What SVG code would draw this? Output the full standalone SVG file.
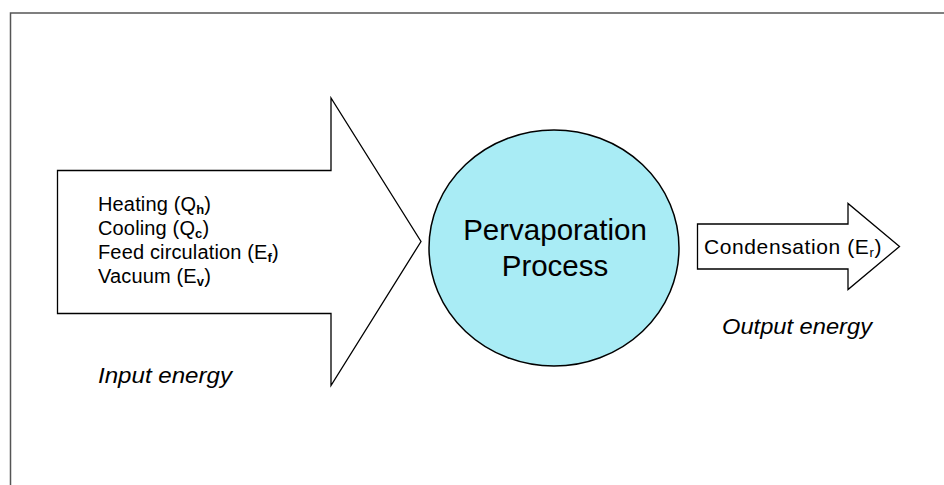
<svg xmlns="http://www.w3.org/2000/svg" width="944" height="485" viewBox="0 0 944 485">
<style>
.shape{fill:#ffffff;stroke:#000000;stroke-width:1.3;stroke-linejoin:miter}
.t{font-family:"Liberation Sans",Arial,sans-serif;fill:#000}
.lst{font-size:20px;letter-spacing:0.15px}
.cond{font-size:21px;letter-spacing:0.6px}
.sub{font-size:13px}
.lab{font-size:22px;font-style:italic}
.big{font-size:29.5px}
</style>
<g id="frame">
<polyline points="10.5,485 10.5,13 944,13" fill="none" stroke="#555" stroke-width="1.5"/>
</g>
<g id="input-arrow">
<polygon class="shape" points="57.5,170.5 331,170.5 331,98 421,241.5 331,385.5 331,313.5 57.5,313.5"/>
<text class="t lst" x="98" y="211">Heating (Q<tspan class="sub" font-weight="bold" dy="3">h</tspan><tspan dy="-3">)</tspan></text>
<text class="t lst" x="98" y="235">Cooling (Q<tspan class="sub" font-weight="bold" dy="3">c</tspan><tspan dy="-3">)</tspan></text>
<text class="t lst" x="98" y="259">Feed circulation (E<tspan class="sub" font-weight="bold" dy="3">f</tspan><tspan dy="-3">)</tspan></text>
<text class="t lst" x="98" y="283">Vacuum (E<tspan class="sub" font-weight="bold" dy="3">v</tspan><tspan dy="-3">)</tspan></text>
</g>
<g id="input-label">
<text class="t lab" x="98" y="383" textLength="134" lengthAdjust="spacingAndGlyphs">Input energy</text>
</g>
<g id="process">
<ellipse cx="554" cy="248" rx="125" ry="118" fill="#a9ecf5" stroke="#000" stroke-width="1.5"/>
<text class="t big" x="555" y="240" text-anchor="middle">Pervaporation</text>
<text class="t big" x="555" y="276" text-anchor="middle">Process</text>
</g>
<g id="output-arrow">
<polygon class="shape" points="697.5,224 848,224 848,203.5 899.5,246.5 848,289.5 848,269 697.5,269"/>
<text class="t cond" x="704" y="254">Condensation (E<tspan class="sub" dy="3">r</tspan><tspan dy="-3">)</tspan></text>
</g>
<g id="output-label">
<text class="t lab" x="722" y="334" textLength="150" lengthAdjust="spacingAndGlyphs">Output energy</text>
</g>
<g id="connectors"></g>
</svg>
